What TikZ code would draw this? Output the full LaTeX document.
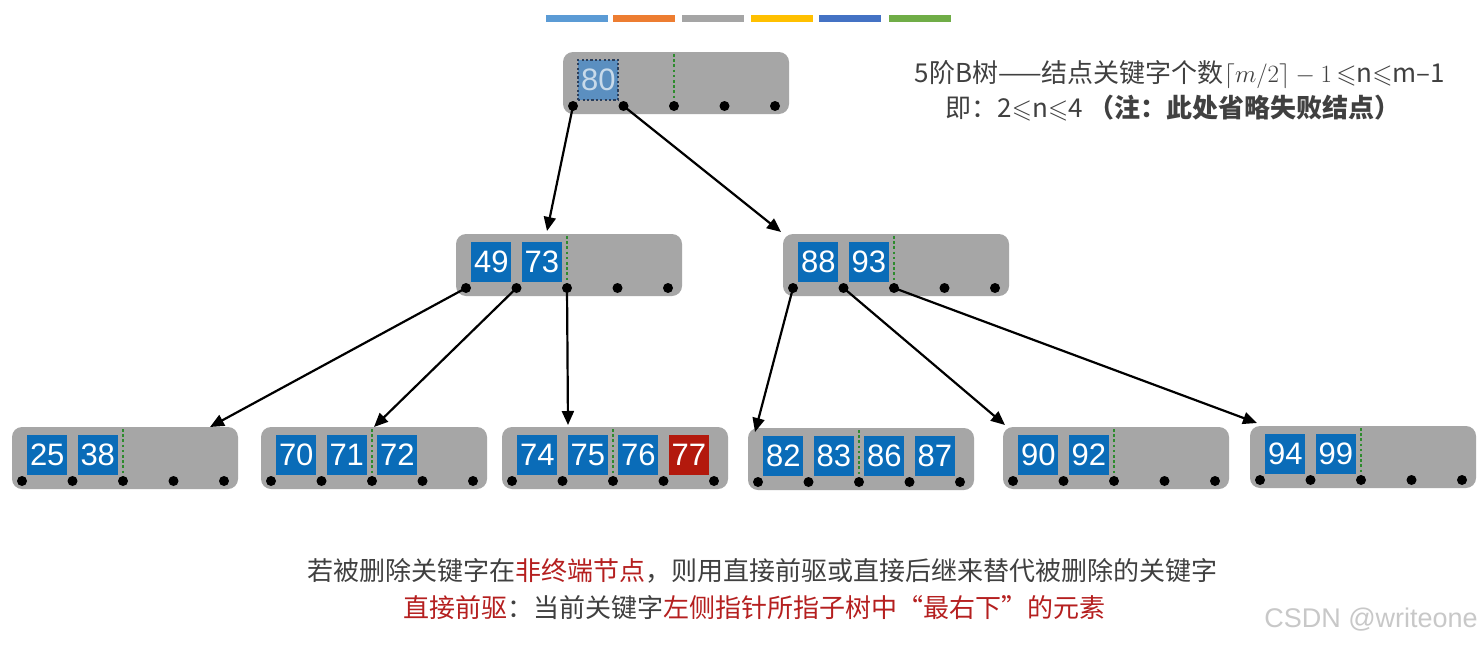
\documentclass[tikz,border=0pt]{standalone}
\usepackage{amssymb}
\usepackage{fontspec}
\setmainfont{Noto Sans CJK SC}
\newfontfamily\keyfont{Liberation Sans}
\usetikzlibrary{arrows.meta}
\definecolor{nodegray}{HTML}{A6A6A6}
\definecolor{keyblue}{HTML}{0A6CB8}
\definecolor{keyred}{HTML}{B3190D}
\definecolor{ghostblue}{HTML}{5B8FC0}
\definecolor{ghosttext}{HTML}{C8DAEA}
\definecolor{ghostline}{HTML}{2B3F5C}
\definecolor{gline}{HTML}{2E8B2E}
\definecolor{txtgray}{HTML}{404040}
\definecolor{txtred}{HTML}{B51F1F}
\definecolor{wm}{HTML}{C8C8C8}
\definecolor{barA}{HTML}{5B9BD5}
\definecolor{barB}{HTML}{ED7D31}
\definecolor{barC}{HTML}{A5A5A5}
\definecolor{barD}{HTML}{FFC000}
\definecolor{barE}{HTML}{4472C4}
\definecolor{barF}{HTML}{70AD47}
\tikzset{
  bbox/.style={fill=nodegray, rounded corners=10, minimum width=226, minimum height=62, inner sep=0, draw=none},
  pdot/.style={circle, fill=black, inner sep=0, minimum size=10},
  kb/.style={fill=keyblue, text=white, minimum width=40, minimum height=40, inner sep=0, font=\keyfont\fontsize{31}{31}\selectfont},
  kr/.style={kb, fill=keyred},
  kg/.style={kb, fill=ghostblue, text=ghosttext, draw=ghostline, dash pattern=on 2.2 off 2.2, line width=2.2},
  sepline/.style={gline, dash pattern=on 2.6 off 2.6, line width=2.8},
  arr/.style={-{Triangle[length=14,width=12]}, line width=2.2, black},
  bar/.style={minimum width=62, minimum height=7, inner sep=0, draw=none},
}
\newcommand\bnode[4]{%
  \node[bbox] (#1) at (#2+113,#3+31) {};
  \draw[sepline] (#2+111,#3+2) -- (#2+111,#3+50);
  \foreach \s/\t [count=\c from 0] in {#4}
    \node[\s] (#1-k\c) at (#2+35.25+50.5*\c,#3+28) {\t};
  \foreach \i in {0,...,4}
    \node[pdot] (#1-d\i) at (#2+10+50.5*\i,#3+54) {};
}
\begin{document}
\begin{tikzpicture}[x=1pt,y=-1pt]
\useasboundingbox (0,0) rectangle (1482,645);
\fill[white] (0,0) rectangle (1482,645);
% color bars
\node[bar, fill=barA] (b1) at (577,18.5) {};
\node[bar, fill=barB] (b2) at (644,18.5) {};
\node[bar, fill=barC] (b3) at (713,18.5) {};
\node[bar, fill=barD] (b4) at (782,18.5) {};
\node[bar, fill=barE] (b5) at (850,18.5) {};
\node[bar, fill=barF] (b6) at (920,18.5) {};
% B-tree nodes
\bnode{r}{563}{52}{kg/80}
\bnode{L}{456}{234}{kb/49,kb/73}
\bnode{R}{783}{234}{kb/88,kb/93}
\bnode{A}{12}{427}{kb/25,kb/38}
\bnode{B}{261}{427}{kb/70,kb/71,kb/72}
\bnode{C}{502}{427}{kb/74,kb/75,kb/76,kr/77}
\bnode{D}{748}{428}{kb/82,kb/83,kb/86,kb/87}
\bnode{E}{1003}{427}{kb/90,kb/92}
\bnode{F}{1250}{426}{kb/94,kb/99}
% arrow ends
\coordinate (tL) at (547,231);
\coordinate (tR) at (781,232);
\coordinate (tA) at (210,427);
\coordinate (tB) at (374,427);
\coordinate (tC) at (568,425);
\coordinate (tD) at (755,432);
\coordinate (tE) at (1005,425);
\coordinate (tF) at (1257,423);
\draw[arr] (r-d0.center) -- (tL);
\draw[arr] (r-d1.center) -- (tR);
\draw[arr] (L-d0.center) -- (tA);
\draw[arr] (L-d1.center) -- (tB);
\draw[arr] (L-d2.center) -- (tC);
\draw[arr] (R-d0.center) -- (tD);
\draw[arr] (R-d1.center) -- (tE);
\draw[arr] (R-d2.center) -- (tF);
% texts
\node[text=txtgray, font=\fontsize{26}{26}\selectfont, inner sep=0] (t1) at (1180,75)
  {5阶B树——结点关键字个数$\lceil m/2\rceil-1$\,$\leqslant$n$\leqslant$m–1};
\node[text=txtgray, font=\fontsize{26}{26}\selectfont, inner sep=0] (t2) at (1173,108)
  {即：2$\leqslant$n$\leqslant$4 \textbf{（注：此处省略失败结点）}};
\node[text=txtgray, font=\fontsize{26}{26}\selectfont, inner sep=0] (t3) at (762,571)
  {若被删除关键字在\textcolor{txtred}{非终端节点}，则用直接前驱或直接后继来替代被删除的关键字};
\node[text=txtgray, font=\fontsize{26}{26}\selectfont, inner sep=0] (t4) at (754,608)
  {\textcolor{txtred}{直接前驱}：当前关键字\textcolor{txtred}{左侧指针所指子树中“最右下”的元素}};
\node[text=wm, font=\keyfont\fontsize{27}{27}\selectfont, inner sep=0] (wmk) at (1371,620) {CSDN @writeone};
\end{tikzpicture}
\end{document}
